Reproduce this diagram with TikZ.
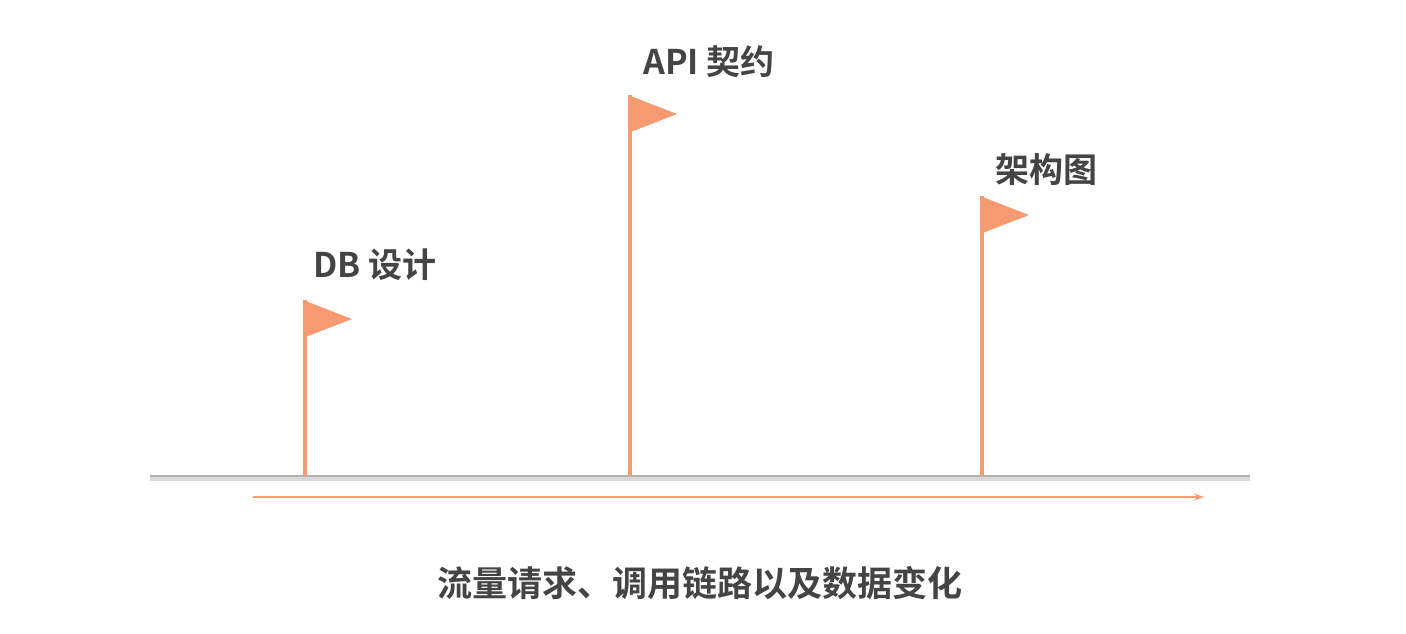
\documentclass[tikz,border=0pt]{standalone}
\usepackage{fontspec}
\setmainfont{Noto Sans CJK SC Bold}
\usetikzlibrary{arrows.meta}
\definecolor{flagc}{HTML}{F79A72}
\definecolor{txt}{HTML}{444444}
\tikzset{pole/.style={draw=flagc,line width=4pt},
flagtri/.style={fill=flagc},
lbl/.style={text=txt,font=\fontsize{34}{40}\selectfont,anchor=west,inner sep=0pt}}
\begin{document}
\begin{tikzpicture}[x=1pt,y=-1pt]
\useasboundingbox (0,0) rectangle (1406,634);
\coordinate (b1) at (150,476); \coordinate (b2) at (1250,476);
\draw[draw=black!15,line width=5pt] (150,478) -- (1250,478);
\draw[draw=black!30,line width=2.5pt] (b1) -- (b2);
\coordinate (a1) at (253,497); \coordinate (a2) at (1204,497);
\draw[flagc,line width=1.5pt,-{Stealth[length=10pt,width=7pt]}] (a1) -- (a2);
% flags
\foreach \x/\t/\n in {305/300/f1,630/95/f2,982/196/f3}{
  \coordinate (\n base) at (\x,476);
  \coordinate (\n top) at (\x,\t);
  \draw[pole] (\n base) -- (\n top);
  \fill[flagtri] (\x-2,\t) -- (\x+47,\t+19) -- (\x-2,\t+38) -- cycle;
}
\node[lbl] (l1) at (313,265) {DB 设计};
\node[lbl] (l2) at (643,62) {API 契约};
\node[lbl] (l3) at (995,170) {架构图};
\node[text=txt,font=\fontsize{35}{40}\selectfont,inner sep=0pt] (cap) at (700,583) {流量请求、调用链路以及数据变化};
\end{tikzpicture}
\end{document}
